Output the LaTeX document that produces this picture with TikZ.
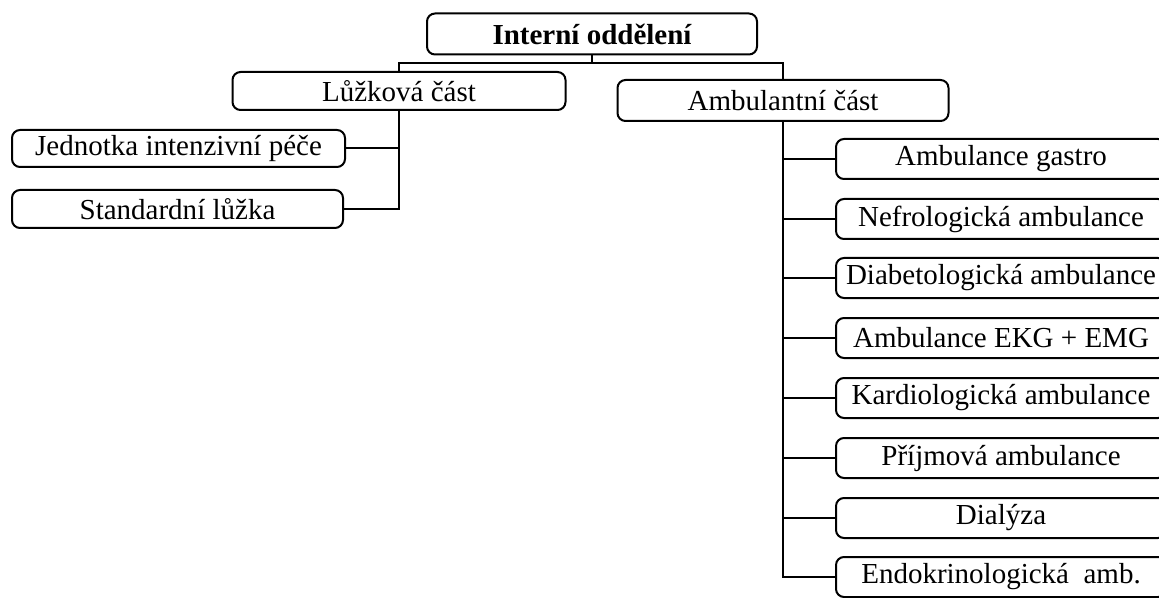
\documentclass[tikz,border=0pt]{standalone}
\usepackage{fontspec}
\setmainfont{Liberation Serif}
\begin{document}
\begin{tikzpicture}[x=0.5pt, y=-0.5pt,
  box/.style={draw, line width=1pt, rounded corners=4pt, inner sep=0pt,
    font=\fontsize{14.5}{17}\selectfont, minimum height=20pt},
  rbox/.style={box, minimum width=165pt},
  conn/.style={line width=1pt}]
\clip (0,0) rectangle (1159,598);
\node[box, minimum width=165pt, minimum height=20.5pt, font=\fontsize{14.5}{17}\selectfont\bfseries] (top) at (592,34) {Interní oddělení};
\node[box, minimum width=166.5pt, minimum height=19pt] (luz) at (399,91) {Lůžková část};
\node[box, minimum width=165.5pt, minimum height=20.5pt] (amb) at (783,100.5) {Ambulantní část};
\node[box, minimum width=166.5pt, minimum height=18.5pt] (jip) at (178.5,148.5) {Jednotka intenzivní péče};
\node[box, minimum width=165.5pt, minimum height=19pt] (std) at (177.5,209) {Standardní lůžka};
\node[rbox] (r1) at (1001,159) {Ambulance gastro};
\node[rbox] (r2) at (1001,219) {Nefrologická ambulance};
\node[rbox] (r3) at (1001,278) {Diabetologická ambulance};
\node[rbox] (r4) at (1001,338) {Ambulance EKG + EMG};
\node[rbox] (r5) at (1001,398) {Kardiologická ambulance};
\node[rbox] (r6) at (1001,458) {Příjmová ambulance};
\node[rbox] (r7) at (1001,518) {Dialýza};
\node[rbox] (r8) at (1001,577) {Endokrinologická\ \ amb.};
\coordinate (bar) at (0,63);
\draw[conn] (top.south) -- (top.south |- bar);
\draw[conn] (luz.north) |- (amb.north |- bar) -- (amb.north);
\draw[conn] (luz.south) |- (std.east);
\draw[conn] (jip.east) -- (jip.east -| luz.south);
\draw[conn] (amb.south) |- (r8.west);
\foreach \i in {1,...,7} {\draw[conn] (r\i.west) -- (r\i.west -| amb.south);}
\end{tikzpicture}
\end{document}
